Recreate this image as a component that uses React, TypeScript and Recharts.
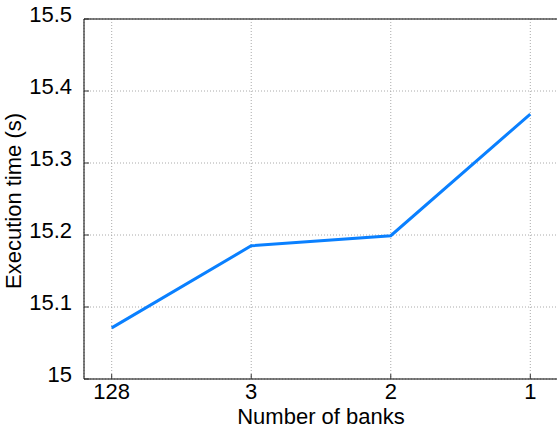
import { LineChart, Line, XAxis, YAxis, CartesianGrid, ReferenceLine } from 'recharts';

const banks = ['128', '3', '2', '1'];
const execTimes = [15.071, 15.185, 15.199, 15.368];
const yTicks = [15, 15.1, 15.2, 15.3, 15.4, 15.5];

const data = banks.map((b, i) => ({ banks: b, time: execTimes[i] }));

const FONT = '"Liberation Sans", Arial, sans-serif';

// bottom tick: label below, small tick pointing up into the plot
const BottomTick = (p: any) => (
  <g>
    <line x1={p.x} x2={p.x} y1={p.y - 4} y2={p.y - 9} stroke="#333" />
    <text x={p.x} y={p.y} dy="0.71em" textAnchor="middle" fontSize={22} fill="#000" fontFamily={FONT}>
      {p.payload.value}
    </text>
  </g>
);

const TopTick = (p: any) => <line x1={p.x} x2={p.x} y1={p.y} y2={p.y + 5} stroke="#333" />;

const LeftTick = (p: any) => (
  <g>
    <line x1={p.x + 12} x2={p.x + 17} y1={p.y} y2={p.y} stroke="#333" />
    <text x={p.x} y={p.y} dy={3} textAnchor="end" fontSize={22} fill="#000" fontFamily={FONT}>
      {p.payload.value}
    </text>
  </g>
);

const RightTick = (p: any) => <line x1={p.x - 5} x2={p.x} y1={p.y} y2={p.y} stroke="#333" />;

export default function App() {
  return (
    <div style={{ position: 'absolute', left: 0, top: 0, width: 557, height: 428, overflow: 'hidden', background: '#fff' }}>
      <LineChart width={572} height={428} data={data} margin={{ top: 19, right: 0, bottom: 0, left: 0 }}>
        <CartesianGrid stroke="#aaa" strokeDasharray="1 2" />
        <XAxis
          dataKey="banks"
          padding={{ left: 27.7, right: 27.7 }}
          height={49}
          tickSize={0}
          tickMargin={4}
          tick={BottomTick}
          axisLine={{ stroke: '#000' }}
          label={{ value: 'Number of banks', position: 'insideBottom', offset: 4, fontSize: 22, fill: '#000', fontFamily: FONT }}
        />
        <XAxis
          xAxisId="top"
          dataKey="banks"
          orientation="top"
          padding={{ left: 27.7, right: 27.7 }}
          height={0}
          tickSize={0}
          tickMargin={0}
          tick={TopTick}
          axisLine={{ stroke: '#000' }}
        />
        <YAxis
          type="number"
          domain={[15, 15.5]}
          ticks={yTicks}
          width={84}
          tickSize={0}
          tickMargin={12}
          tick={LeftTick}
          axisLine={{ stroke: '#000' }}
          label={{ value: 'Execution time (s)', angle: -90, position: 'insideLeft', offset: 13, dy: 90, fontSize: 22, fill: '#000', fontFamily: FONT }}
        />
        <YAxis
          yAxisId="r"
          orientation="right"
          type="number"
          domain={[15, 15.5]}
          ticks={yTicks}
          width={14}
          tickSize={0}
          tickMargin={0}
          tick={RightTick}
          axisLine={{ stroke: '#000' }}
        />
        <ReferenceLine y={15.5} stroke="#000" />
        <Line
          type="linear"
          dataKey="time"
          stroke="#0a80ff"
          strokeWidth={3}
          dot={false}
          isAnimationActive={false}
        />
      </LineChart>
    </div>
  );
}
